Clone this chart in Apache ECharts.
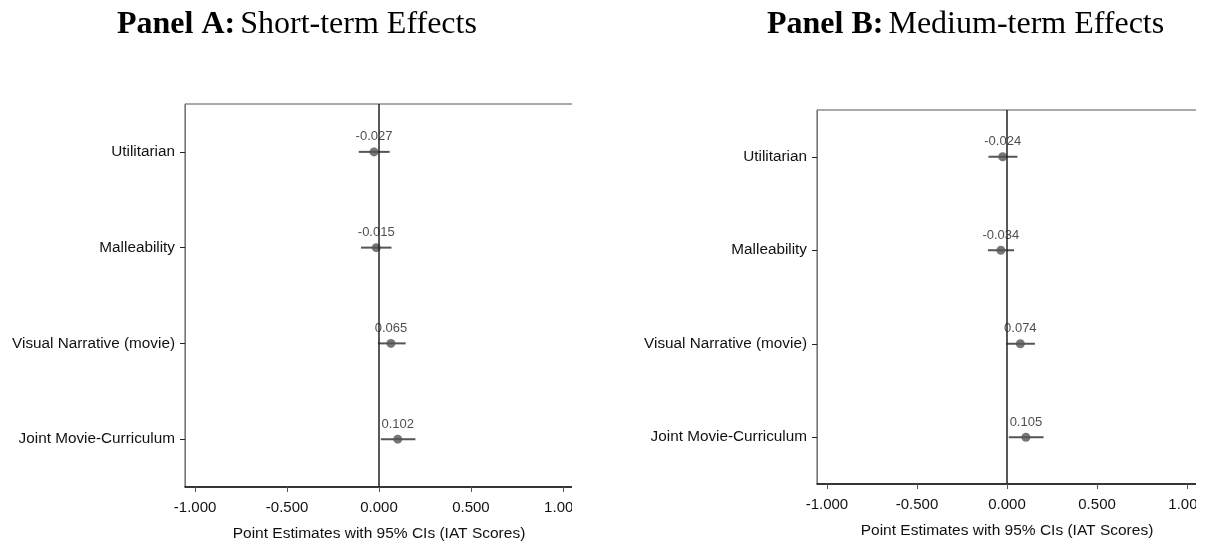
<!DOCTYPE html>
<html>
<head>
<meta charset="utf-8">
<script src="https://cdn.jsdelivr.net/npm/echarts@6/dist/echarts.min.js"></script>
<style>
  html, body { margin: 0; padding: 0; background: #fff; }
  body { width: 1207px; height: 544px; position: relative; overflow: hidden; }
  .clip { position: absolute; top: 0; height: 544px; overflow: hidden; }
  .chart { position: absolute; top: 0; left: 0; height: 544px; }
</style>
</head>
<body>
<div class="clip" style="left:0;width:572px;"><div id="ca" class="chart" style="width:620px;"></div></div>
<div class="clip" style="left:600px;width:596px;"><div id="cb" class="chart" style="width:650px;"></div></div>
<script>
const categories = ['Utilitarian', 'Malleability', 'Visual Narrative (movie)', 'Joint Movie-Curriculum'];
const xTicks = [-1, -0.5, 0, 0.5, 1];
const yTicks = [0, 1, 2, 3];

const shortEst = [-0.027, -0.015, 0.065, 0.102];
const shortLo  = [-0.110, -0.098, -0.006, 0.010];
const shortHi  = [0.058, 0.068, 0.145, 0.198];

const medEst = [-0.024, -0.034, 0.074, 0.105];
const medLo  = [-0.103, -0.106, -0.004, 0.010];
const medHi  = [0.058, 0.039, 0.155, 0.203];

function makeOption(titleBold, titleRest, titleLeft, grid, est, lo, hi) {
  return {
    animation: false,
    title: {
      text: '{b|' + titleBold + '} {n|' + titleRest + '}',
      left: titleLeft, top: 9, padding: 0,
      textStyle: {
        rich: {
          b: { fontFamily: 'Liberation Serif', fontWeight: 'bold', fontSize: 32, color: '#000' },
          n: { fontFamily: 'Liberation Serif', fontWeight: 'normal', fontSize: 32, color: '#000' }
        }
      }
    },
    grid: Object.assign({ show: true, borderColor: '#555', borderWidth: 1, backgroundColor: '#fff', outerBoundsMode: 'none', containLabel: false }, grid),
    xAxis: {
      type: 'value', min: -1.055, max: 1.055,
      splitLine: { show: false },
      axisLine: { show: true, onZero: false, lineStyle: { color: '#111', width: 1.5 } },
      axisTick: { show: true, length: 5, customValues: xTicks, lineStyle: { color: '#555' } },
      axisLabel: { customValues: xTicks, formatter: v => v.toFixed(3), fontFamily: 'Liberation Sans', fontSize: 15, color: '#111', margin: 13, hideOverlap: false, showMinLabel: true, showMaxLabel: true },
      name: 'Point Estimates with 95% CIs (IAT Scores)',
      nameLocation: 'middle', nameGap: 39,
      nameTextStyle: { fontFamily: 'Liberation Sans', fontSize: 15.5, color: '#111' }
    },
    yAxis: {
      type: 'value', min: -0.5, max: 3.5, inverse: true,
      axisLine: { show: true, onZero: false, lineStyle: { color: '#777', width: 1 } },
      axisTick: { show: true, length: 5, customValues: yTicks, lineStyle: { color: '#222' } },
      axisLabel: { customValues: yTicks, formatter: v => categories[Math.round(v)], fontFamily: 'Liberation Sans', fontSize: 15.3, color: '#111', margin: 10, showMinLabel: true, showMaxLabel: true },
      splitLine: { show: false }
    },
    series: [
      {
        type: 'custom',
        encode: { x: [0, 1], y: 2 },
        data: categories.map((c, i) => [lo[i], hi[i], i]),
        renderItem: function (params, api) {
          const a = api.coord([api.value(0), api.value(2)]);
          const b = api.coord([api.value(1), api.value(2)]);
          return { type: 'line', shape: { x1: a[0], y1: a[1], x2: b[0], y2: b[1] }, style: { stroke: '#555', lineWidth: 2 } };
        },
        z: 3
      },
      {
        type: 'scatter',
        data: est.map((v, i) => [v, i]),
        symbol: 'circle', symbolSize: 9,
        itemStyle: { color: '#555' },
        label: { show: true, position: 'top', distance: 4, formatter: p => p.value[0].toFixed(3), fontFamily: 'Liberation Sans', fontSize: 13, color: '#222' },
        z: 4,
        markLine: {
          silent: true, symbol: 'none', animation: false,
          label: { show: false },
          lineStyle: { color: '#222', width: 1.5, type: 'solid' },
          data: [{ xAxis: 0 }]
        }
      }
    ]
  };
}

const ca = echarts.init(document.getElementById('ca'), null, { renderer: 'canvas' });
ca.setOption(makeOption('Panel A:', 'Short-term Effects', 117, { left: 185, top: 104, width: 388, height: 383 }, shortEst, shortLo, shortHi));

const cb = echarts.init(document.getElementById('cb'), null, { renderer: 'canvas' });
cb.setOption(makeOption('Panel B:', 'Medium-term Effects', 167, { left: 217, top: 110, width: 380, height: 374 }, medEst, medLo, medHi));
</script>
</body>
</html>
